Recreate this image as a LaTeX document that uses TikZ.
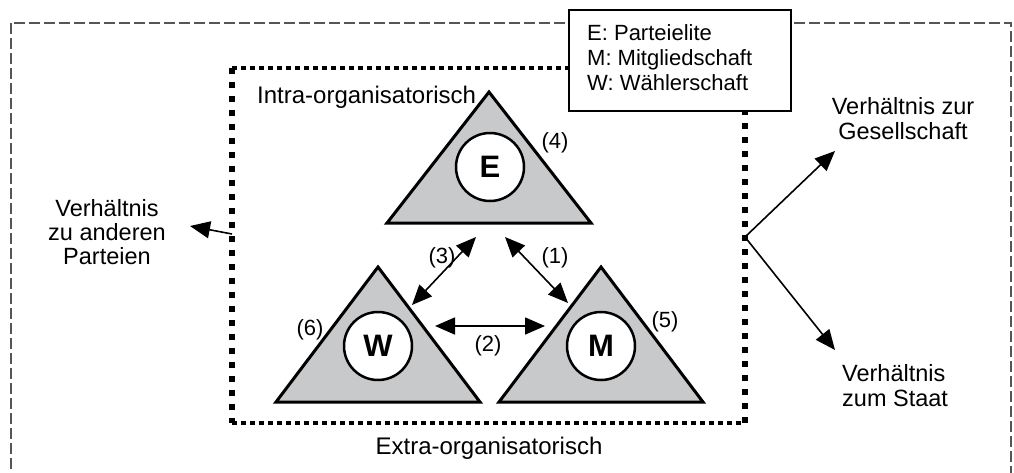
\documentclass[tikz,border=0pt]{standalone}
\usepackage{fontspec}
\setmainfont{Liberation Sans}
\usetikzlibrary{arrows.meta}
\definecolor{trifill}{HTML}{C8C9CB}
\definecolor{dashgray}{HTML}{555555}
\tikzset{
  tri/.style={draw=black, fill=trifill, line width=3pt, line join=miter},
  circ/.style={circle, draw=black, fill=white, line width=2.5pt, minimum size=68pt, inner sep=0pt, font=\fontsize{31}{31}\selectfont\bfseries},
  rel/.style={line width=1.6pt, -{Triangle[length=20pt,width=17pt]}},
  birel/.style={line width=1.6pt, {Triangle[length=20pt,width=17pt]}-{Triangle[length=20pt,width=17pt]}},
  txt/.style={inner sep=0pt, font=\fontsize{23.5}{24}\selectfont},
  frtxt/.style={inner sep=0pt, font=\fontsize{24}{24}\selectfont},
  legtxt/.style={inner sep=0pt, anchor=base west, font=\fontsize{22}{25}\selectfont},
  num/.style={inner sep=0pt, font=\fontsize{22}{22}\selectfont},
  hdots/.style={line width=4.5pt, dash pattern=on 4.5pt off 4.5pt},
  vdots/.style={line width=5.5pt, dash pattern=on 6pt off 8pt},
}
\begin{document}
\begin{tikzpicture}[x=1pt, y=-1pt]
\useasboundingbox (0,0) rectangle (1014,472);
\clip (0,0) rectangle (1014,472);
\fill[white] (0,0) rectangle (1014,472);
% outer dashed frame
\draw[dashgray, line width=2pt, dash pattern=on 11pt off 4pt] (11,23) rectangle (1011,500);
% dotted inner frame
\coordinate (dtl) at (232,68);
\coordinate (dtr) at (745,68);
\coordinate (dbl) at (232,423);
\coordinate (dbr) at (745,423);
\draw[hdots] (dtl) -- (dtr);
\draw[hdots] (dbl) -- (dbr);
\draw[vdots] (dtl) -- (dbl);
\draw[vdots] (dbr) -- (dtr);
% triangles
\draw[tri] (489,92) -- (591,223) -- (387,223) -- cycle;
\draw[tri] (378,267) -- (480,402) -- (276,402) -- cycle;
\draw[tri] (601,267) -- (703,402) -- (499,402) -- cycle;
\node[circ] (E) at (490,167) {E};
\node[circ] (W) at (378,346) {W};
\node[circ] (M) at (601,346) {M};
% internal arrows
\coordinate (a3w) at (412,305); \coordinate (a3e) at (476,237);
\coordinate (a1e) at (505,237); \coordinate (a1m) at (568,303);
\coordinate (a2w) at (435,326); \coordinate (a2m) at (545,326);
\draw[birel] (a3w) -- (a3e);
\draw[birel] (a1e) -- (a1m);
\draw[birel] (a2w) -- (a2m);
% external arrows
\coordinate (lp) at (232,234); \coordinate (lpt) at (190,226);
\coordinate (rp) at (745,237); \coordinate (rg) at (835,151); \coordinate (rs) at (835,350);
\draw[rel] (lp) -- (lpt);
\draw[rel] (rp) -- (rg);
\draw[rel] (rp) -- (rs);
% numbers
\node[num] (n4) at (555,143) {(4)};
\node[num] (n3) at (442,258) {(3)};
\node[num] (n1) at (555,258) {(1)};
\node[num] (n6) at (310,330) {(6)};
\node[num] (n2) at (488,346) {(2)};
\node[num] (n5) at (665,322) {(5)};
% frame labels
\node[frtxt, anchor=base west] (intra) at (257,103) {Intra-organisatorisch};
\node[frtxt, anchor=base] (extra) at (489,454) {Extra-organisatorisch};
% relation texts
\node[txt, anchor=base] (l1) at (107,216) {Verhältnis};
\node[txt, anchor=base] (l2) at (107,240) {zu anderen};
\node[txt, anchor=base] (l3) at (107,264) {Parteien};
\node[txt, anchor=base] (g1) at (903,114) {Verhältnis zur};
\node[txt, anchor=base] (g2) at (903,139) {Gesellschaft};
\node[txt, anchor=base west] (s1) at (842,381) {Verhältnis};
\node[txt, anchor=base west] (s2) at (842,406) {zum Staat};
% legend
\node[draw=black, fill=white, line width=1.5pt, anchor=north west, minimum width=222pt, minimum height=101pt, inner sep=0pt] (leg) at (568,9) {};
\node[legtxt] (le) at (587,40) {E: Parteielite};
\node[legtxt] (lm) at (587,65) {M: Mitgliedschaft};
\node[legtxt] (lw) at (587,90) {W: Wählerschaft};
\end{tikzpicture}
\end{document}
